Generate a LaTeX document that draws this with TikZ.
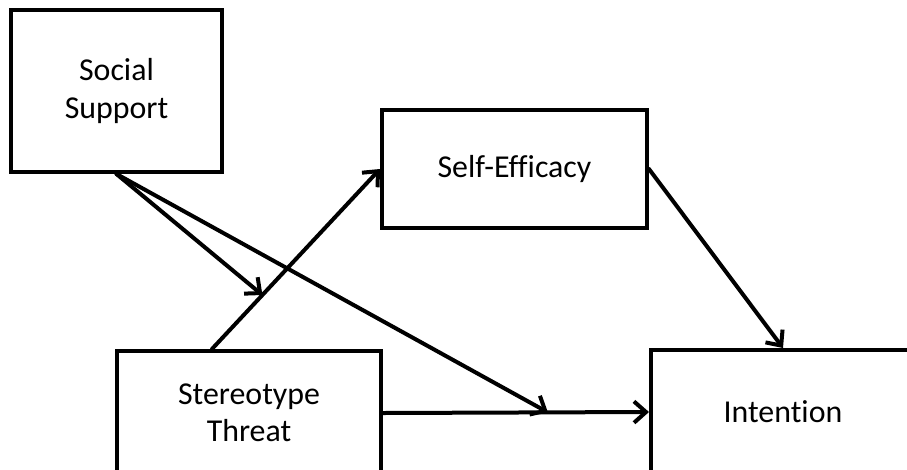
\documentclass[tikz,border=0pt]{standalone}
\usepackage{fontspec}
\setmainfont{Carlito}[Ligatures=NoCommon]
\usetikzlibrary{arrows.meta,calc}

\begin{document}
\begin{tikzpicture}[x=0.75pt,y=-0.75pt,
    box/.style={draw, line width=3pt, align=center, inner sep=0pt,
        font=\fontsize{23.9}{28}\selectfont},
    path/.style={line width=3pt, line cap=round,
        -{Straight Barb[length=9pt,width=16pt,line width=3pt]}}]
    % Frame of the picture (boxes at the bottom and right are cut off)
    \useasboundingbox (0,0) rectangle (907,469);
    \clip (0,0) rectangle (907,469);

    % Boxes
    \node[box, minimum width=158.25pt, minimum height=121.5pt] (support) at (116.5,91) {Social\\Support};
    \node[box, minimum width=198.75pt, minimum height=88.5pt] (efficacy) at (514.5,169) {Self-Efficacy};
    \node[box, minimum width=198pt, minimum height=93pt] (threat) at (249,413) {Stereotype\\Threat};
    \node[box, minimum width=198pt, minimum height=93pt] (intention) at (783,412) {Intention};

    % Main paths
    \coordinate (tstart) at ([xshift=-27.75pt]threat.north);
    \draw[path] (tstart) -- (efficacy.west);
    \draw[path] (threat.east) -- (intention.west);
    \draw[path] (efficacy.east) -- (intention.north);

    % Moderation by social support (arrows end on the paths)
    \coordinate (mod1) at ($(tstart)!0.3!(efficacy.west)$);
    \coordinate (mod2) at ($(threat.east)!0.62!(intention.west)$);
    \draw[path] (support.south) -- (mod1);
    \draw[path] (support.south) -- (mod2);
\end{tikzpicture}
\end{document}
